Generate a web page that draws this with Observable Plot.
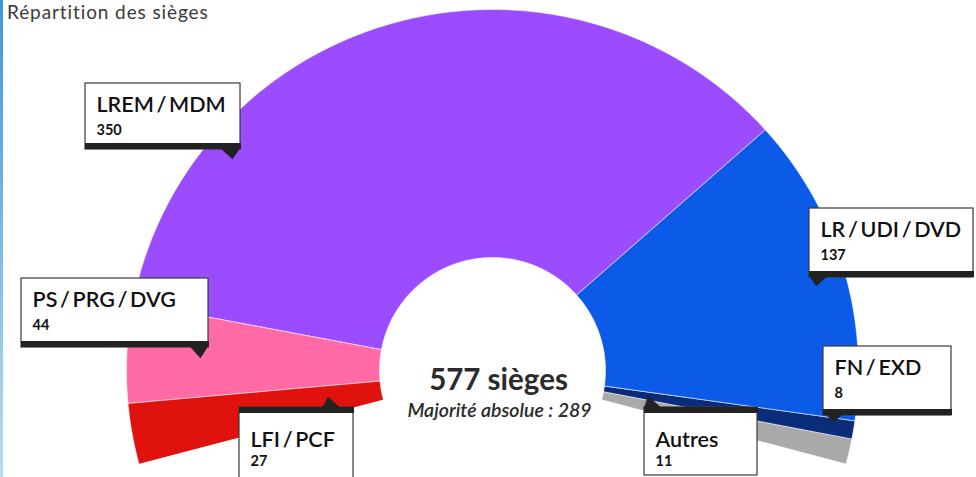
<!DOCTYPE html>
<html>
<head>
<meta charset="utf-8">
<script src="https://cdn.jsdelivr.net/npm/d3@7"></script>
<script src="https://cdn.jsdelivr.net/npm/@observablehq/plot@0.6"></script>
<style>
  html, body { margin: 0; padding: 0; background: #fff; }
  body { width: 976px; height: 477px; overflow: hidden; position: relative; font-family: Lato, "Noto Sans", sans-serif; }
  #stripe { position: absolute; left: 0; top: 0; width: 3px; height: 477px; background: linear-gradient(#3f96dc, #b9dcf3); z-index: 3; }
  #subtitle { position: absolute; left: 7px; top: 0px; font-size: 19px; line-height: 23px; color: #3a3a3a; letter-spacing: 0.9px; z-index: 2; }
  #chart { position: absolute; left: 0; top: 0; }
</style>
</head>
<body>
<div id="stripe"></div>
<div id="subtitle">Répartition des sièges</div>
<div id="chart"></div>
<script>
// ---- data ----
const parties = ["LFI / PCF", "PS / PRG / DVG", "LREM / MDM", "LR / UDI / DVD", "FN / EXD", "Autres"];
const seats = [27, 44, 350, 137, 8, 11];
const partyColors = ["#e0120d", "#ff6aa7", "#9b4cff", "#0b5be8", "#0b2c78", "#a9a9a9"];
const totalSeats = 577;
const majority = 289;

// ---- layout ----
const W = 976, H = 477;
const cx = 492, cy = 370, rxOuter = 366, ryOuter = 361, rInner = 113;
const startDeg = -105, spanDeg = 210;

// slices from the seat counts
let acc = 0;
const slicePts = [];
parties.forEach((p, i) => {
  const a0 = startDeg + spanDeg * acc / totalSeats;
  acc += seats[i];
  const a1 = startDeg + spanDeg * acc / totalSeats;
  const n = Math.max(4, Math.ceil(a1 - a0));
  const toRad = Math.PI / 180;
  for (let k = 0; k <= n; k++) {
    const a = (a0 + (a1 - a0) * k / n) * toRad;
    slicePts.push({party: p, x: cx + rxOuter * Math.sin(a), y: cy - ryOuter * Math.cos(a)});
  }
  for (let k = n; k >= 0; k--) {
    const a = (a0 + (a1 - a0) * k / n) * toRad;
    slicePts.push({party: p, x: cx + rInner * Math.sin(a), y: cy - rInner * Math.cos(a)});
  }
});

// label boxes (annotation layout, pixels): box, bar side, tail
const boxes = [
  {party: "LREM / MDM", x1: 85, x2: 240, y1: 83, y2: 149, bar: "bottom", tail: [[221,148],[239,148],[232,158]]},
  {party: "LR / UDI / DVD", x1: 809, x2: 973, y1: 208, y2: 277, bar: "bottom", tail: [[810,276],[826,276],[816,285]]},
  {party: "PS / PRG / DVG", x1: 21, x2: 208, y1: 278, y2: 347, bar: "bottom", tail: [[190,346],[207,346],[200,357]]},
  {party: "LFI / PCF", x1: 239, x2: 353, y1: 407, y2: 480, bar: "top", tail: [[322,408],[340,408],[328,397]]},
  {party: "Autres", x1: 644, x2: 757, y1: 407, y2: 475, bar: "top", tail: [[644,408],[661,408],[648,396]]},
  {party: "FN / EXD", x1: 823, x2: 951, y1: 346, y2: 415, bar: "bottom", tail: [[826,414],[842,414],[833,421]]}
];
const shortSlash = s => s.replace(/ \/ /g, "\u2009/\u2009");
const bars = boxes.map(b => b.bar === "bottom" ? {x1: b.x1, x2: b.x2 + 1, y1: b.y2 - 6, y2: b.y2} : {x1: b.x1, x2: b.x2 + 1, y1: b.y1, y2: b.y1 + 6});
const tails = boxes.flatMap(b => b.tail.map(([x, y]) => ({party: b.party, x, y})));
const nameTexts = boxes.map(b => ({name: shortSlash(b.party), x: b.x1 + 11, y: b.bar === "bottom" ? b.y1 + 28 : b.y1 + 39}));
const seatTexts = boxes.map(b => ({txt: String(seats[parties.indexOf(b.party)]), x: b.x1 + 11, y: b.bar === "bottom" ? b.y1 + 51 : b.y1 + 58}));

const chart = Plot.plot({
  width: W, height: H,
  margin: 0,
  x: {domain: [0, W], range: [0, W], axis: null},
  y: {domain: [0, H], range: [0, H], axis: null},
  color: {domain: parties, range: partyColors},
  style: {fontFamily: "Lato, 'Noto Sans', sans-serif", background: "transparent"},
  marks: [
    Plot.line(slicePts, {x: "x", y: "y", z: "party", fill: "party", stroke: "#ffffff", strokeOpacity: 0.55, strokeWidth: 1, curve: "linear-closed"}),
    Plot.rect(boxes, {x1: "x1", x2: "x2", y1: "y1", y2: "y2", fill: "#ffffff", stroke: "#3a3a3a", strokeWidth: 1.2}),
    Plot.rect(bars, {x1: "x1", x2: "x2", y1: "y1", y2: "y2", fill: "#222222"}),
    Plot.line(tails, {x: "x", y: "y", z: "party", fill: "#222222", stroke: "#222222", strokeWidth: 1, curve: "linear-closed"}),
    Plot.text(nameTexts, {x: "x", y: "y", text: "name", textAnchor: "start", lineAnchor: "bottom", fontSize: 21.5, fontWeight: 600, fill: "#111"}),
    Plot.text(seatTexts, {x: "x", y: "y", text: "txt", textAnchor: "start", lineAnchor: "bottom", fontSize: 14.5, fontWeight: 700, fill: "#111"}),
    Plot.text([`${totalSeats} sièges`], {x: [cx + 6], y: [cy + 19], text: d => d, lineAnchor: "bottom", fontSize: 29.5, fontWeight: 700, fill: "#2b2b2b", letterSpacing: 0.5}),
    Plot.text([`Majorité absolue : ${majority}`], {x: [cx + 7], y: [cy + 46], text: d => d, lineAnchor: "bottom", fontSize: 19.5, fontStyle: "italic", fontWeight: 600, fill: "#2b2b2b", letterSpacing: 0.3})
  ]
});
document.getElementById("chart").appendChild(chart);
</script>
</body>
</html>
